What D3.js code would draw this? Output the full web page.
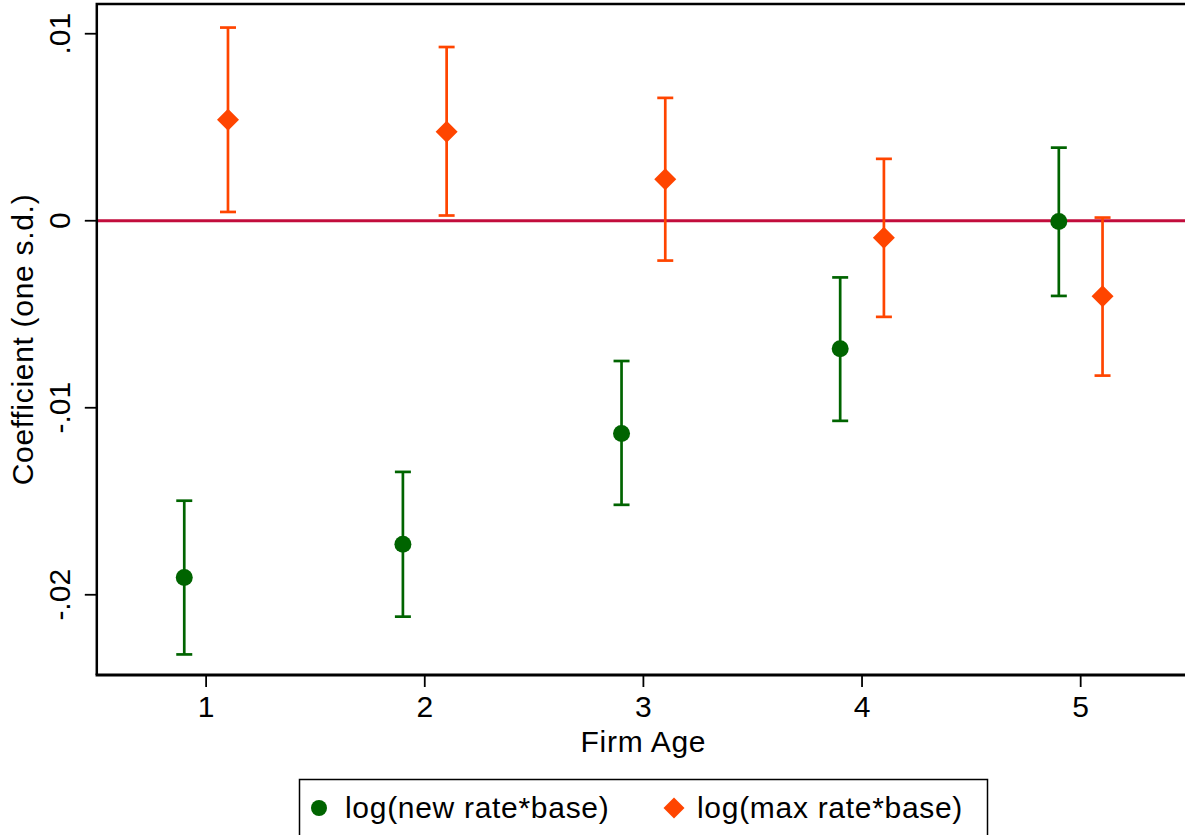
<!DOCTYPE html>
<html>
<head>
<meta charset="utf-8">
<script src="https://cdn.jsdelivr.net/npm/d3@7"></script>
<style>
  html, body { margin: 0; padding: 0; background: #fff; }
  svg { display: block; }
  text { font-family: "Liberation Sans", Arial, Helvetica, sans-serif; fill: #000; }
  .wide { letter-spacing: 0.7px; }
</style>
</head>
<body>
<svg id="chart" width="1185" height="835"></svg>
<script>
// Firm-age groups and the two regression series (point estimate with CI bounds)
const ages = [1, 2, 3, 4, 5];
const newRateCoef  = [-0.01908, -0.01730, -0.01138, -0.00685, -0.00004];
const newRateLow   = [-0.02319, -0.02117, -0.01519, -0.01070, -0.00402];
const newRateHigh  = [-0.01497, -0.01343, -0.00750, -0.00303,  0.00391];
const maxRateCoef  = [ 0.00540,  0.00476,  0.00222, -0.00091, -0.00404];
const maxRateLow   = [ 0.00047,  0.00028, -0.00213, -0.00514, -0.00828];
const maxRateHigh  = [ 0.01033,  0.00929,  0.00657,  0.00331,  0.00017];
const yTicks = [0.01, 0, -0.01, -0.02];
const yTickLabels = [".01", "0", "-.01", "-.02"];
const xTicks = [1, 2, 3, 4, 5];
const seriesNames = ["log(new rate*base)", "log(max rate*base)"];
const seriesOffsets = [-0.1, 0.1];

const GREEN = "#006400";
const ORANGE = "#ff4500";
const ZERO_LINE = "#c20d3c";

const svg = d3.select("#chart");

const plot = { left: 96.8, right: 1190, top: 4, bottom: 675 };

const x = d3.scaleLinear().domain([0.5, 5.5]).range([plot.left, plot.right]);
const y = d3.scaleLinear().domain([-0.02429, 0.01159]).range([plot.bottom, plot.top]);

// zero reference line
svg.append("line")
  .attr("x1", plot.left).attr("x2", plot.right)
  .attr("y1", y(0)).attr("y2", y(0))
  .attr("stroke", ZERO_LINE).attr("stroke-width", 3);

const series = [
  { name: seriesNames[0], color: GREEN, shape: "circle", off: seriesOffsets[0],
    rows: ages.map((a, i) => ({ a, c: newRateCoef[i], lo: newRateLow[i], hi: newRateHigh[i] })) },
  { name: seriesNames[1], color: ORANGE, shape: "diamond", off: seriesOffsets[1],
    rows: ages.map((a, i) => ({ a, c: maxRateCoef[i], lo: maxRateLow[i], hi: maxRateHigh[i] })) }
];

const capHalf = 8;
const diamondPath = s => `M0,${-s}L${s},0L0,${s}L${-s},0Z`;

series.forEach(s => {
  const g = svg.append("g");
  const grp = g.selectAll("g.pt").data(s.rows).join("g").attr("class", "pt");
  // CI whisker
  grp.append("line")
    .attr("x1", d => x(d.a + s.off)).attr("x2", d => x(d.a + s.off))
    .attr("y1", d => y(d.lo)).attr("y2", d => y(d.hi))
    .attr("stroke", s.color).attr("stroke-width", 2.7);
  // caps
  ["lo", "hi"].forEach(k => {
    grp.append("line")
      .attr("x1", d => x(d.a + s.off) - capHalf).attr("x2", d => x(d.a + s.off) + capHalf)
      .attr("y1", d => y(d[k])).attr("y2", d => y(d[k]))
      .attr("stroke", s.color).attr("stroke-width", 2.7);
  });
  // point marker
  if (s.shape === "circle") {
    grp.append("circle")
      .attr("cx", d => x(d.a + s.off)).attr("cy", d => y(d.c))
      .attr("r", 8.5).attr("fill", s.color);
  } else {
    grp.append("path")
      .attr("transform", d => `translate(${x(d.a + s.off)},${y(d.c)})`)
      .attr("d", diamondPath(11)).attr("fill", s.color);
  }
});

// plot frame
svg.append("path")
  .attr("d", `M${plot.left},${plot.bottom}V${plot.top}H${plot.right}`)
  .attr("fill", "none").attr("stroke", "#000").attr("stroke-width", 2.5);
svg.append("line")
  .attr("x1", plot.left - 1.25).attr("x2", plot.right)
  .attr("y1", plot.bottom).attr("y2", plot.bottom)
  .attr("stroke", "#000").attr("stroke-width", 3);

// y axis ticks and rotated labels
const yAxis = svg.append("g");
yAxis.selectAll("line").data(yTicks).join("line")
  .attr("x1", plot.left - 12).attr("x2", plot.left)
  .attr("y1", d => y(d)).attr("y2", d => y(d))
  .attr("stroke", "#000").attr("stroke-width", 1.8);
yAxis.selectAll("text").data(yTicks).join("text")
  .attr("transform", d => `translate(70,${y(d)}) rotate(-90)`)
  .attr("text-anchor", "middle")
  .attr("font-size", 30)
  .text((d, i) => yTickLabels[i]);

// x axis ticks and labels
const xAxis = svg.append("g");
xAxis.selectAll("line").data(xTicks).join("line")
  .attr("x1", d => x(d)).attr("x2", d => x(d))
  .attr("y1", plot.bottom).attr("y2", plot.bottom + 12)
  .attr("stroke", "#000").attr("stroke-width", 1.8);
xAxis.selectAll("text").data(xTicks).join("text")
  .attr("x", d => x(d)).attr("y", 717)
  .attr("text-anchor", "middle")
  .attr("font-size", 30)
  .text(d => d);

// axis titles
svg.append("text").attr("class", "wide")
  .attr("x", (plot.left + plot.right) / 2).attr("y", 752)
  .attr("text-anchor", "middle").attr("font-size", 30)
  .text("Firm Age");
svg.append("text").attr("class", "wide")
  .attr("transform", `translate(33,${(plot.top + plot.bottom) / 2}) rotate(-90)`)
  .attr("text-anchor", "middle").attr("font-size", 30)
  .text("Coefficient (one s.d.)");

// legend
const legend = svg.append("g");
legend.append("rect")
  .attr("x", 299.5).attr("y", 779.5).attr("width", 688).attr("height", 80)
  .attr("fill", "#fff").attr("stroke", "#000").attr("stroke-width", 1.5);
const legendItems = [
  { s: series[0], mx: 319, tx: 345 },
  { s: series[1], mx: 674, tx: 697 }
];
legendItems.forEach(it => {
  if (it.s.shape === "circle") {
    legend.append("circle").attr("cx", it.mx).attr("cy", 808).attr("r", 8).attr("fill", it.s.color);
  } else {
    legend.append("path").attr("transform", `translate(${it.mx},808)`)
      .attr("d", diamondPath(10.5)).attr("fill", it.s.color);
  }
  legend.append("text").attr("class", "wide").attr("x", it.tx).attr("y", 818)
    .attr("font-size", 30).text(it.s.name);
});
</script>
</body>
</html>
